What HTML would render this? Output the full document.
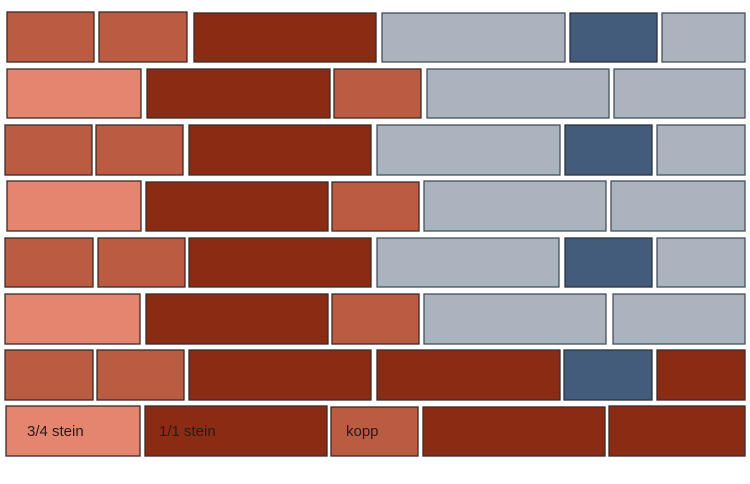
<!DOCTYPE html>
<html><head><meta charset="utf-8"><style>html,body{margin:0;padding:0;background:#fff}</style></head><body>
<svg width="750" height="484" xmlns="http://www.w3.org/2000/svg" style="display:block">
<defs><style>
rect{stroke:#3b2a26;stroke-width:1.3}
.m{fill:#bb5c42}.l{fill:#e4866f}.d{fill:#8a2c13}.g{fill:#abb3bf;stroke:#45505c}.b{fill:#445c7c;stroke:#2a3240}
text{font-family:"Liberation Sans",sans-serif;font-size:15px;fill:#2a1a16}
</style></defs>
<rect class="m" x="7" y="12" width="87" height="50"/>
<rect class="m" x="99" y="12" width="88" height="50"/>
<rect class="d" x="194" y="13" width="182" height="49"/>
<rect class="g" x="382" y="13" width="183" height="49"/>
<rect class="b" x="570" y="13" width="87" height="49"/>
<rect class="g" x="662" y="13" width="83" height="49"/>
<rect class="l" x="7" y="69" width="134" height="49"/>
<rect class="d" x="147" y="69" width="183" height="49"/>
<rect class="m" x="334" y="69" width="87" height="49"/>
<rect class="g" x="427" y="69" width="182" height="49"/>
<rect class="g" x="614" y="69" width="131" height="49"/>
<rect class="m" x="5" y="125" width="87" height="50"/>
<rect class="m" x="96" y="125" width="87" height="50"/>
<rect class="d" x="189" y="125" width="182" height="50"/>
<rect class="g" x="377" y="125" width="183" height="50"/>
<rect class="b" x="565" y="125" width="87" height="50"/>
<rect class="g" x="657" y="125" width="88" height="50"/>
<rect class="l" x="7" y="181" width="134" height="50"/>
<rect class="d" x="146" y="182" width="182" height="49"/>
<rect class="m" x="332" y="182" width="87" height="49"/>
<rect class="g" x="424" y="181" width="182" height="50"/>
<rect class="g" x="611" y="181" width="134" height="50"/>
<rect class="m" x="5" y="238" width="88" height="49"/>
<rect class="m" x="98" y="238" width="87" height="49"/>
<rect class="d" x="189" y="238" width="182" height="49"/>
<rect class="g" x="377" y="238" width="182" height="49"/>
<rect class="b" x="565" y="238" width="87" height="49"/>
<rect class="g" x="657" y="238" width="88" height="49"/>
<rect class="l" x="5" y="294" width="135" height="50"/>
<rect class="d" x="146" y="294" width="182" height="50"/>
<rect class="m" x="332" y="294" width="87" height="50"/>
<rect class="g" x="424" y="294" width="182" height="50"/>
<rect class="g" x="613" y="294" width="132" height="50"/>
<rect class="m" x="5" y="350" width="88" height="50"/>
<rect class="m" x="97" y="350" width="87" height="50"/>
<rect class="d" x="189" y="350" width="182" height="50"/>
<rect class="d" x="377" y="350" width="183" height="50"/>
<rect class="b" x="564" y="350" width="88" height="50"/>
<rect class="d" x="657" y="350" width="88" height="50"/>
<rect class="l" x="6" y="406" width="134" height="50"/>
<rect class="d" x="145" y="406" width="182" height="50"/>
<rect class="m" x="331" y="407" width="87" height="49"/>
<rect class="d" x="423" y="407" width="182" height="49"/>
<rect class="d" x="609" y="406" width="136" height="50"/>
<text x="27" y="436">3/4 stein</text>
<text x="159" y="436">1/1 stein</text>
<text x="346" y="436">kopp</text>
</svg>
</body></html>
